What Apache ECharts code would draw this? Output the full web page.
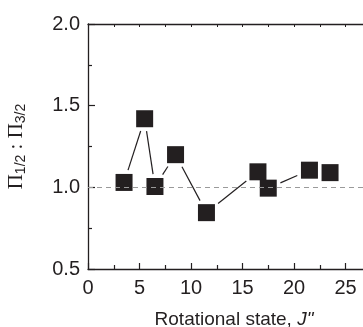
<!DOCTYPE html>
<html><head><meta charset="utf-8">
<script src="https://cdn.jsdelivr.net/npm/echarts@6/dist/echarts.min.js"></script>
<style>html,body{margin:0;padding:0;background:#fff}#c{width:363px;height:327px}</style>
</head><body><div id="c"></div>
<script>
var jValues = [3.5, 5.5, 6.5, 8.5, 11.5, 16.5, 17.5, 21.5, 23.5];
var ratioValues = [1.03, 1.42, 1.005, 1.2, 0.845, 1.095, 0.995, 1.105, 1.09];
var xTicks = [0, 5, 10, 15, 20, 25, 30];
var yTicks = [0.5, 1.0, 1.5, 2.0];
var refLevel = 1.0;

var ink = '#231f20';
var pts = jValues.map(function (x, i) { return [x, ratioValues[i]]; });
var segs = [];
for (var i = 0; i < pts.length - 1; i++) segs.push([pts[i][0], pts[i][1], pts[i + 1][0], pts[i + 1][1]]);
var HALF = 8.5, GAP = 4;

var chart = echarts.init(document.getElementById('c'), null, {renderer: 'canvas'});
chart.setOption({
  animation: false,
  backgroundColor: '#fff',
  grid: {left: 88, top: 24, height: 245, width: 309, containLabel: false, outerBoundsMode: 'none'},
  xAxis: [{
    type: 'value', min: xTicks[0], max: xTicks[xTicks.length - 1], interval: 5,
    axisLine: {lineStyle: {color: ink, width: 1.3}},
    axisTick: {inside: true, length: 6, lineStyle: {color: ink, width: 1.2}},
    minorTick: {show: true, splitNumber: 2, length: 4, lineStyle: {color: ink, width: 1.2}},
    splitLine: {show: false},
    axisLabel: {color: ink, fontSize: 20, fontFamily: 'Liberation Sans', margin: 9,
      formatter: function (v) { return xTicks.indexOf(v) >= 0 && v < 30 ? String(v) : ''; }},
    name: '{a|Rotational state, }{i|J"}',
    nameLocation: 'middle', nameGap: 41,
    nameTextStyle: {padding: [0, 17, 0, 0], rich: {
      a: {fontSize: 19, fontFamily: 'Liberation Sans', color: ink},
      i: {fontSize: 19, fontFamily: 'Liberation Sans', fontStyle: 'italic', color: ink}}}
  }, {
    type: 'value', position: 'top', min: xTicks[0], max: xTicks[xTicks.length - 1], interval: 5,
    axisLine: {show: true, lineStyle: {color: ink, width: 1.3}},
    axisTick: {inside: true, length: 3, lineStyle: {color: ink, width: 1}},
    minorTick: {show: true, splitNumber: 2, length: 3, lineStyle: {color: ink, width: 1}},
    axisLabel: {show: false}, splitLine: {show: false}
  }],
  yAxis: {
    type: 'value', min: yTicks[0], max: yTicks[yTicks.length - 1], interval: 0.5,
    axisLine: {show: true, lineStyle: {color: ink, width: 1.3}},
    axisTick: {inside: true, length: 7, lineStyle: {color: ink, width: 1.2}},
    minorTick: {show: true, splitNumber: 2, length: 4, lineStyle: {color: ink, width: 1.2}},
    splitLine: {show: false},
    axisLabel: {color: ink, fontSize: 20, fontFamily: 'Liberation Sans', margin: 8,
      formatter: function (v) { return v.toFixed(1); }},
    name: '{m|Π}{s|1/2}{m| : Π}{s|3/2}',
    nameLocation: 'middle', nameRotate: 90, nameGap: 60,
    nameTextStyle: {rich: {
      m: {fontSize: 21, lineHeight: 24, fontFamily: 'Liberation Serif', color: ink},
      s: {fontSize: 14, lineHeight: 14, padding: [10, 0, 0, 0], fontFamily: 'Liberation Sans', color: ink}}}
  },
  series: [{
    type: 'custom',
    data: segs,
    renderItem: function (params, api) {
      var p0 = api.coord([api.value(0), api.value(1)]);
      var p1 = api.coord([api.value(2), api.value(3)]);
      var dx = p1[0] - p0[0], dy = p1[1] - p0[1];
      var len = Math.sqrt(dx * dx + dy * dy);
      if (len < 1e-6) return null;
      var ux = dx / len, uy = dy / len;
      var d = HALF / Math.max(Math.abs(ux), Math.abs(uy)) + GAP;
      if (len <= 2 * d) return null;
      return {type: 'line', shape: {x1: p0[0] + ux * d, y1: p0[1] + uy * d, x2: p1[0] - ux * d, y2: p1[1] - uy * d},
        style: {stroke: ink, lineWidth: 1.2}};
    },
    z: 2
  }, {
    type: 'scatter',
    data: pts,
    symbol: 'rect', symbolSize: 17,
    itemStyle: {color: ink, opacity: 1},
    z: 3,
    markLine: {
      silent: true, symbol: 'none', label: {show: false},
      lineStyle: {color: '#9a9a9a', type: [5, 4], width: 1},
      data: [{yAxis: refLevel}]
    }
  }]
});
</script>
</body></html>
